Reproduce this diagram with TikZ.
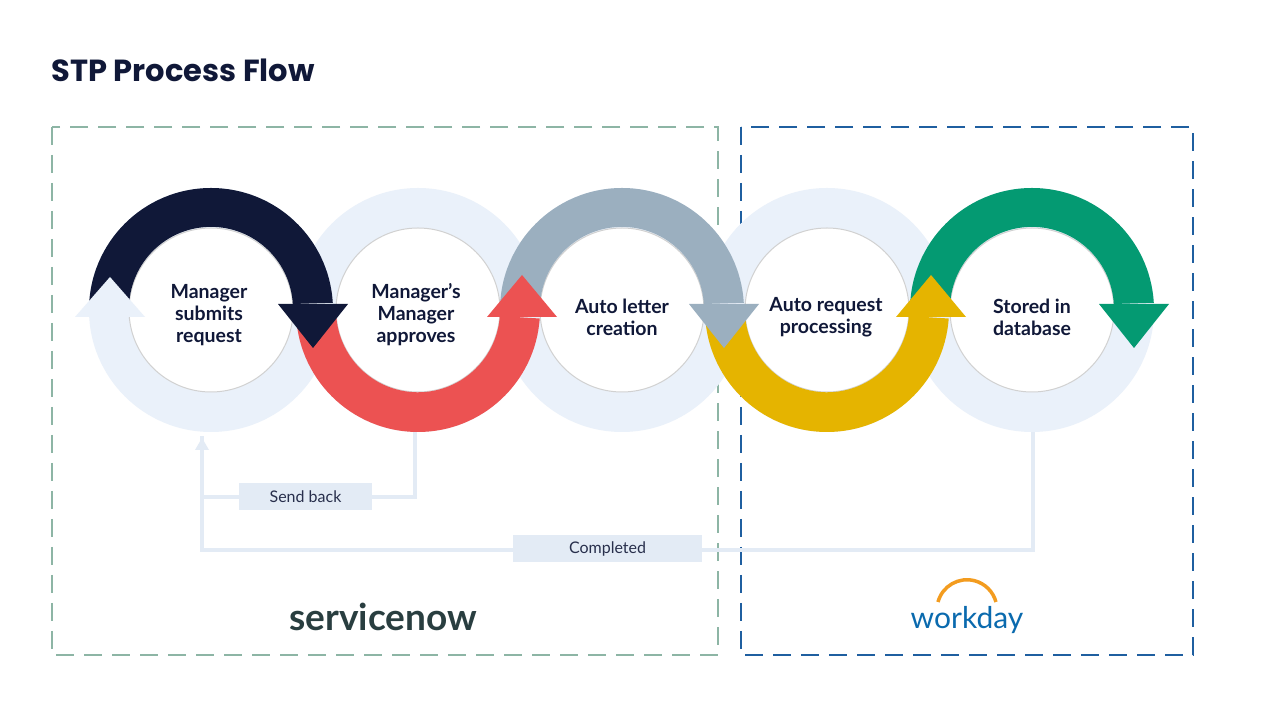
\documentclass[tikz,border=0pt]{standalone}
\usepackage{fontspec}
\setmainfont{Lato}
\newfontfamily\pop{Poppins}
\usetikzlibrary{arrows.meta}
\definecolor{lite}{HTML}{EAF1FA}
\definecolor{linec}{HTML}{E3EBF5}
\definecolor{navy}{HTML}{101838}
\definecolor{redc}{HTML}{EC5252}
\definecolor{greyc}{HTML}{9BAFBF}
\definecolor{yelc}{HTML}{E5B400}
\definecolor{grnc}{HTML}{049A72}
\definecolor{gbox}{HTML}{8DB5A5}
\definecolor{bbox}{HTML}{1F5FA0}
\definecolor{snow}{HTML}{293E40}
\definecolor{wday}{HTML}{0A6AAE}
\definecolor{wor}{HTML}{F39C1F}
\tikzset{
 rtext/.style={text=navy,font=\fontsize{19.5}{22}\selectfont\bfseries,align=center},
 dbox/.style={dash pattern=on 18pt off 10pt,line width=2.5pt},
 conn/.style={linec,line width=3.5pt},
 lbl/.style={fill=linec,text=navy!90,font=\fontsize{16}{18}\selectfont,minimum height=27pt},
}
\newcommand\toparc[2]{%
 \fill[#2] (#1-122,410) arc[start angle=180,end angle=3.4,radius=122] -- (#1+82*0.998,416) arc[start angle=3.4,end angle=180,radius=82] -- cycle;
 \fill[#2] (#1+67,416) -- (#1+137,416) -- (#1+102,372) -- cycle;}
\newcommand\botarc[2]{%
 \fill[#2] (#1-122,410) arc[start angle=180,end angle=356,radius=122] -- (#1+82*0.998,404) arc[start angle=356,end angle=180,radius=82] -- cycle;
 \fill[#2] (#1+69,403) -- (#1+139,403) -- (#1+104,445) -- cycle;}
\begin{document}
\begin{tikzpicture}[x=1pt,y=1pt]
\useasboundingbox (0,0) rectangle (1261,720);
\fill[white] (0,0) rectangle (1261,720);
\node[anchor=west,text=navy,font=\pop\fontsize{30.5}{32}\selectfont\bfseries] (title) at (48,650) {STP Process Flow};
\draw[gbox,dbox] (52,593) rectangle (718,65);
\draw[bbox,dbox] (741,593) rectangle (1193,65);
% connectors
\coordinate (r1b) at (202,284);
\coordinate (c1) at (202,170);
\coordinate (c2) at (1033,170);
\coordinate (r5b) at (1033,290);
\coordinate (s1) at (415,288);
\coordinate (s2) at (415,223);
\coordinate (s3) at (202,223);
\draw[conn] (r5b) -- (c2) -- (c1) -- (r1b);
\draw[conn] (s1) -- (s2) -- (s3);
\fill[linec] (202,282) -- (195,270) -- (209,270) -- cycle;
\node[lbl,minimum width=133pt] (send) at (305.5,223.5) {Send back};
\node[lbl,minimum width=189pt] (comp) at (607.5,171.5) {Completed};
% light rings
\foreach \c in {211,418,622,827,1032}{
 \fill[lite,even odd rule] (\c,410) circle (122) (\c,410) circle (82);
}
\foreach \c in {211,418,622,827,1032}{
 \fill[white] (\c,410) circle (82);
 \draw[black!18,line width=1pt] (\c,410) circle (82);
}
\toparc{1032}{grnc}
\botarc{827}{yelc}
\toparc{622}{greyc}
\botarc{418}{redc}
\toparc{211}{navy}
\fill[lite] (75,403) -- (145,403) -- (110,443) -- cycle;
\node[rtext] (t1) at (209,405) {Manager\\submits\\request};
\node[rtext] (t2) at (416,405) {Manager’s\\Manager\\approves};
\node[rtext] (t3) at (622,403) {Auto letter\\creation};
\node[rtext] (t4) at (826,403) {Auto request\\processing};
\node[rtext] (t5) at (1032,403) {Stored in\\database};
\node[text=snow,font=\fontsize{37}{37}\selectfont\bfseries] (sn) at (383,103) {servicenow};
\node[text=wday,font=\fontsize{30}{30}\selectfont] (wd) at (967,100) {workday};
\draw[wor,line width=3.5pt] (938,118) arc[start angle=165,end angle=15,radius=30];
\end{tikzpicture}
\end{document}
